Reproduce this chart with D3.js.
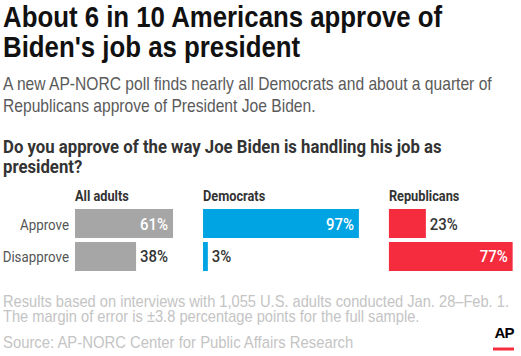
<!DOCTYPE html>
<html><head><meta charset="utf-8">
<script src="https://cdn.jsdelivr.net/npm/d3@7"></script>
<style>html,body{margin:0;padding:0;background:#fff;}svg{display:block;}</style>
</head><body>
<script>
const groups = ["All adults", "Democrats", "Republicans"];
const responses = ["Approve", "Disapprove"];
const approveValues = [61, 97, 23];
const disapproveValues = [38, 3, 77];
const groupColors = ["#a6a6a6", "#00a4e3", "#f52b3e"];
const titleLines = ["About 6 in 10 Americans approve of", "Biden's job as president"];
const subtitleLines = ["A new AP-NORC poll finds nearly all Democrats and about a quarter of", "Republicans approve of President Joe Biden."];
const questionLines = ["Do you approve of the way Joe Biden is handling his job as", "president?"];
const noteLines = ["Results based on interviews with 1,055 U.S. adults conducted Jan. 28\u2013Feb. 1.", "The margin of error is \u00b13.8 percentage points for the full sample."];
const sourceLine = "Source: AP-NORC Center for Public Affairs Research";

const W = 521, H = 356;
const svg = d3.select("body").append("svg").attr("width", W).attr("height", H);

function txt(x, y, s, size, weight, fill, family, anchor, sq) {
  return svg.append("text")
    .attr("transform", `translate(${x},${y}) scale(${sq || 0.88},1)`)
    .attr("font-family", family || "'Liberation Sans', Arial, sans-serif")
    .attr("font-size", size).attr("font-weight", weight).attr("fill", fill)
    .attr("text-anchor", anchor || "start").text(s);
}

titleLines.forEach((l, i) => txt(3, 27 + i * 30, l, 29, "bold", "#111", null, "start", 0.89));
subtitleLines.forEach((l, i) => txt(3, 90 + i * 22, l, 17.5, "normal", "#5a5a5a", null, "start", 0.893));
questionLines.forEach((l, i) => txt(3, 153 + i * 20, l, 18, "bold", "#333", "Roboto, sans-serif", "start", 0.93));

const x = d3.scaleLinear().domain([0, 100]).range([0, 160.7]);
const y = d3.scaleBand().domain(responses).range([209, 271]).paddingInner(0.121);
const gap = 30;
const maxes = groups.map((g, i) => Math.max(approveValues[i], disapproveValues[i]));
const offsets = [];
maxes.reduce((acc, m, i) => { offsets[i] = acc; return acc + x(m) + gap; }, 75);

responses.forEach(r => txt(69, y(r) + y.bandwidth() / 2 + 6, r, 15.5, "normal", "#555", "Roboto, sans-serif", "end", 0.86));

groups.forEach((g, i) => {
  const gx = offsets[i];
  txt(gx, 201, g, 14.5, "bold", "#333", "Roboto, sans-serif");
  const vals = [approveValues[i], disapproveValues[i]];
  responses.forEach((r, j) => {
    const v = vals[j];
    svg.append("rect").attr("x", gx).attr("y", y(r)).attr("width", x(v)).attr("height", y.bandwidth()).attr("fill", groupColors[i]);
    const inside = v >= 50;
    txt(inside ? gx + x(v) - 5 : gx + x(v) + 4, y(r) + y.bandwidth() / 2 + 6, v + "%", 17, "500",
      inside ? "#fff" : "#333", "Roboto, sans-serif", inside ? "end" : "start");
  });
});

noteLines.forEach((l, i) => txt(3, 307 + i * 15, l, 16, "normal", "#c4c4c4", null, "start", 0.915));
txt(3, 348, sourceLine, 16.5, "normal", "#c4c4c4", null, "start", 0.9);

svg.append("text").attr("x", 504).attr("y", 338).attr("text-anchor", "middle")
  .attr("font-family", "'Liberation Sans', Arial, sans-serif").attr("font-weight", "bold")
  .attr("font-size", 15).attr("fill", "#000").attr("letter-spacing", -1).text("AP");
svg.append("rect").attr("x", 493).attr("y", 347.5).attr("width", 21).attr("height", 3).attr("fill", "#f52b3e");
</script>
</body></html>
